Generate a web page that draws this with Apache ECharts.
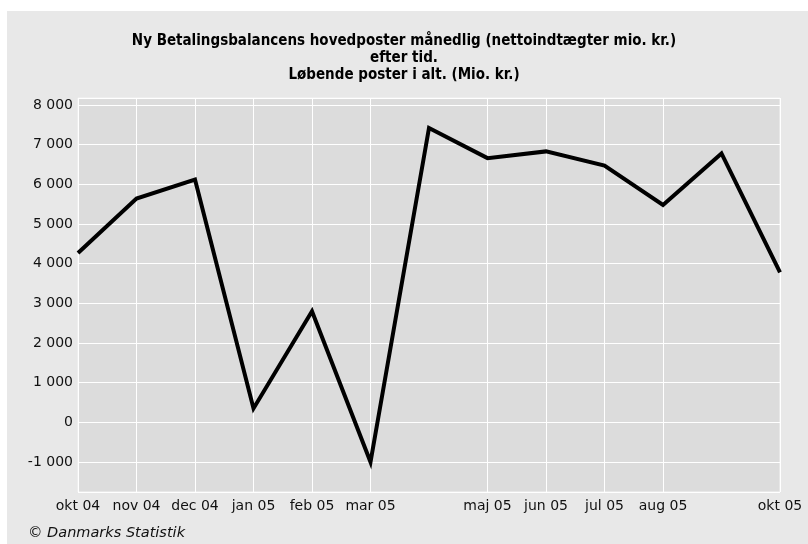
<!DOCTYPE html>
<html>
<head>
<meta charset="utf-8">
<script src="https://cdn.jsdelivr.net/npm/echarts@6/dist/echarts.min.js"></script>
<style>
  html, body { margin: 0; padding: 0; background: #ffffff; }
  #chart { width: 808px; height: 544px; }
</style>
</head>
<body>
<div id="chart"></div>
<script>
// Categories (months) and values (Mio. kr.)
const categories = ['okt 04', 'nov 04', 'dec 04', 'jan 05', 'feb 05', 'mar 05', 'apr 05', 'maj 05', 'jun 05', 'jul 05', 'aug 05', 'sep 05', 'okt 05'];
const shownLabels = ['okt 04', 'nov 04', 'dec 04', 'jan 05', 'feb 05', 'mar 05', 'maj 05', 'jun 05', 'jul 05', 'aug 05', 'okt 05'];
const values = [4270, 5640, 6120, 350, 2800, -1000, 7420, 6660, 6830, 6470, 5480, 6780, 3780];
const yTicks = [-1000, 0, 1000, 2000, 3000, 4000, 5000, 6000, 7000, 8000];
const titleLines = ['Ny Betalingsbalancens hovedposter månedlig (nettoindtægter mio. kr.)', 'efter tid.', 'Løbende poster i alt. (Mio. kr.)'];
const footerText = '© Danmarks Statistik';

function fmt(v) {
  const s = String(Math.abs(Math.round(v))).replace(/\B(?=(\d{3})+(?!\d))/g, ' ');
  return (v < 0 ? '-' : '') + s;
}
function isShown(idx) { return shownLabels.indexOf(categories[idx]) >= 0; }

const chart = echarts.init(document.getElementById('chart'), null, { renderer: 'canvas' });
chart.setOption({
  backgroundColor: 'transparent',
  animation: false,
  title: {
    text: titleLines.join('\n'),
    left: 'center',
    top: 28,
    textStyle: {
      fontFamily: '"DejaVu Sans Condensed", "Liberation Sans Narrow", sans-serif',
      fontWeight: 'bold',
      fontSize: 15,
      lineHeight: 17,
      color: '#000'
    }
  },
  graphic: [
    { type: 'rect', z: -100, silent: true, shape: { x: 7, y: 11, width: 801, height: 533 }, style: { fill: '#e8e8e8' } },
    { type: 'text', z: 100, left: 28, top: 526, style: { text: footerText, fontFamily: '"DejaVu Sans", sans-serif', fontStyle: 'italic', fontSize: 14.5, fill: '#111' } }
  ],
  grid: {
    left: 78, right: 28, top: 98, bottom: 52,
    show: true, backgroundColor: '#dcdcdc', borderColor: '#f4f4f4', borderWidth: 1
  },
  xAxis: {
    type: 'category',
    data: categories,
    boundaryGap: false,
    axisLine: { show: false },
    axisTick: { show: false },
    axisLabel: {
      interval: (idx) => isShown(idx),
      margin: 7,
      fontFamily: '"DejaVu Sans", sans-serif',
      fontSize: 14,
      color: '#111'
    },
    splitLine: { show: true, interval: (idx) => isShown(idx), lineStyle: { color: '#ffffff', width: 1 } }
  },
  yAxis: {
    type: 'value',
    min: -1756,
    max: 8176,
    splitNumber: 10,
    minInterval: 1000,
    maxInterval: 1000,
    axisLine: { show: false },
    axisTick: { show: false },
    axisLabel: {
      showMinLabel: false,
      showMaxLabel: false,
      margin: 5,
      fontFamily: '"DejaVu Sans", sans-serif',
      fontSize: 14,
      color: '#111',
      formatter: (v) => (yTicks.indexOf(v) >= 0 ? fmt(v) : '')
    },
    splitLine: { show: true, lineStyle: { color: '#ffffff', width: 1 } }
  },
  series: [{
    type: 'line',
    data: values,
    symbol: 'none',
    lineStyle: { color: '#000', width: 4, join: 'miter' },
    z: 5
  }]
});
</script>
</body>
</html>
